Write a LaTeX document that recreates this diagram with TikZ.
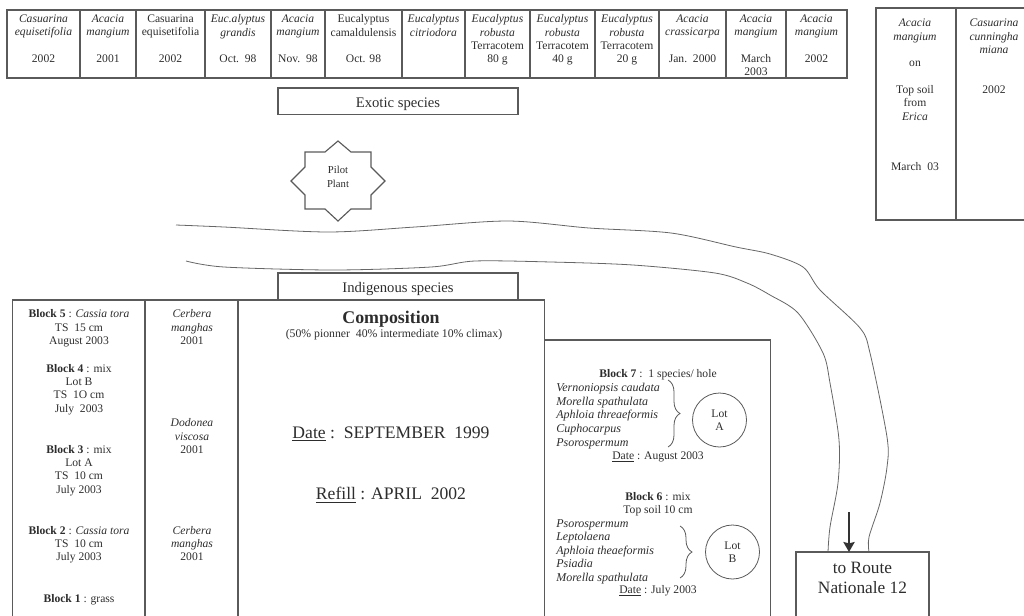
\documentclass[tikz,border=0pt]{standalone}
\usepackage{fontspec}
\setmainfont{Liberation Serif}
\usepackage{tikz}
\usetikzlibrary{arrows.meta,positioning,decorations.pathreplacing}
\definecolor{rule}{RGB}{90,90,90}
\definecolor{ink}{RGB}{45,45,45}
\tikzset{
  frame/.style={draw=rule,line width=0.85pt,outer sep=0pt,inner sep=0pt,minimum width=#1*0.75pt},
  cell/.style={frame=#1,minimum height=51pt},
  low/.style={frame=#1,minimum height=238.5pt},
  txt/.style={text=ink,align=center,inner sep=0pt,font=\fontsize{8.7}{10}\selectfont},
  big/.style={text=ink,align=center,inner sep=0pt,font=\fontsize{11}{13}\selectfont,text height=11.7pt,text depth=2pt},
  huge/.style={txt,font=\fontsize{13.2}{15}\selectfont},
  lst/.style={txt,align=left,anchor=north west,font=\fontsize{9}{10.2}\selectfont\itshape},
  river/.style={draw=black!60,line width=0.6pt},
  brc/.style={draw=black!65,line width=0.6pt,decorate,decoration={brace,amplitude=9pt}},
  lot/.style={circle,draw=black!65,line width=0.6pt,minimum size=40.5pt,inner sep=0pt,txt},
  arr/.style={-{Stealth[length=7.5pt,width=8.5pt,inset=1pt]},line width=1pt,draw=black!80}
}
\begin{document}
\begin{tikzpicture}[x=0.75pt,y=-0.75pt]
\useasboundingbox (0,0) rectangle (1024,615);
% top row
\node[cell=73,anchor=north west] (c1) at (7,10) {};
\node[cell=56,right=0pt of c1] (c2) {};
\node[cell=69,right=0pt of c2] (c3) {};
\node[cell=66,right=0pt of c3] (c4) {};
\node[cell=54,right=0pt of c4] (c5) {};
\node[cell=77,right=0pt of c5] (c6) {};
\node[cell=63,right=0pt of c6] (c7) {};
\node[cell=65,right=0pt of c7] (c8) {};
\node[cell=65,right=0pt of c8] (c9) {};
\node[cell=64,right=0pt of c9] (c10) {};
\node[cell=67,right=0pt of c10] (c11) {};
\node[cell=60,right=0pt of c11] (c12) {};
\node[cell=61,right=0pt of c12] (c13) {};
\node[txt,anchor=north] (t1) at (c1.north) [yshift=-3.5pt] {\textit{Casuarina}\\\textit{equisetifolia}\\[10pt]2002};
\node[txt,anchor=north] (t2) at (c2.north) [yshift=-3.5pt] {\textit{Acacia}\\\textit{mangium}\\[10pt]2001};
\node[txt,anchor=north] (t3) at (c3.north) [yshift=-3.5pt] {Casuarina\\equisetifolia\\[10pt]2002};
\node[txt,anchor=north] (t4) at (c4.north) [yshift=-3.5pt] {\textit{Euc.alyptus}\\\textit{grandis}\\[10pt]Oct.~~98};
\node[txt,anchor=north] (t5) at (c5.north) [yshift=-3.5pt] {\textit{Acacia}\\\textit{mangium}\\[10pt]Nov.~~98};
\node[txt,anchor=north] (t6) at (c6.north) [yshift=-3.5pt] {Eucalyptus\\camaldulensis\\[10pt]Oct. 98};
\node[txt,anchor=north] (t7) at (c7.north) [yshift=-3.5pt] {\textit{Eucalyptus}\\\textit{citriodora}};
\node[txt,anchor=north] (t8) at (c8.north) [yshift=-3.5pt] {\textit{Eucalyptus}\\\textit{robusta}\\Terracotem\\80 g};
\node[txt,anchor=north] (t9) at (c9.north) [yshift=-3.5pt] {\textit{Eucalyptus}\\\textit{robusta}\\Terracotem\\40 g};
\node[txt,anchor=north] (t10) at (c10.north) [yshift=-3.5pt] {\textit{Eucalyptus}\\\textit{robusta}\\Terracotem\\20 g};
\node[txt,anchor=north] (t11) at (c11.north) [yshift=-3.5pt] {\textit{Acacia}\\\textit{crassicarpa}\\[10pt]Jan.~~2000};
\node[txt,anchor=north] (t12) at (c12.north) [yshift=-3.5pt] {\textit{Acacia}\\\textit{mangium}\\[10pt]March\\2003};
\node[txt,anchor=north] (t13) at (c13.north) [yshift=-3.5pt] {\textit{Acacia}\\\textit{mangium}\\[10pt]2002};
\node[frame=240,minimum height=20pt,anchor=north west,big] (exotic) at (278,88) {Exotic species};
% right table
\node[frame=80,minimum height=159pt,anchor=north west] (r1) at (876,8) {};
\node[frame=74,minimum height=159pt,right=0pt of r1] (r2) {};
\node[txt,anchor=north] (tr1) at (915,19) {\textit{Acacia}\\\textit{mangium}\\[10pt]on\\[10pt]Top soil\\from\\\textit{Erica}\\[28pt]March~~03};
\node[txt,anchor=north] (tr2) at (994,19) {\textit{Casuarina}\\\textit{cunningha}\\\textit{miana}\\[20pt]2002};
% pilot plant
\draw[draw=rule,line width=0.85pt] (305,152) -- (325,152) -- (338,141) -- (351,152) -- (371,152) -- (371,167) -- (385,181) -- (371,195) -- (371,209) -- (351,209) -- (338,221) -- (325,209) -- (305,209) -- (305,195) -- (291,181) -- (305,167) -- cycle;
\node[txt,font=\fontsize{8}{10}\selectfont] (pilot) at (338,177) {Pilot\\Plant};
% road
\draw[river] plot[smooth,tension=0.5] coordinates {(176,225) (224,227) (328,232) (415,227) (508,221) (589,228) (671,233) (736,247) (770,254) (803,267) (820,290) (860,328) (870,353) (887,437) (887,467) (880,503) (869,537) (869,552)};
\draw[river] plot[smooth,tension=0.5] coordinates {(186,261) (224,267) (333,270) (431,267) (475,261) (551,262) (633,265) (715,273) (747,283) (770,295) (798,313) (823,353) (830,383) (839,440) (838,483) (830,527) (828,552)};
\node[frame=240,minimum height=20.25pt,anchor=north west,big] (indig) at (278,273) {Indigenous species};
% lower blocks
\node[low=132.5,anchor=north west] (b1) at (12.5,300) {};
\node[low=93,right=0pt of b1] (b2) {};
\node[low=306.5,right=0pt of b2] (comp) {};
\node[frame=226,minimum height=208.5pt,anchor=north west] (b7) at (544.5,340) {};
\node[txt,anchor=north] (tb5) at (79,309.5) {\textbf{Block 5} : \textit{Cassia tora}\\TS~~15 cm\\August 2003};
\node[txt,anchor=north] (tb4) at (79,364) {\textbf{Block 4} : mix\\Lot B\\TS~~1O cm\\July~~2003};
\node[txt,anchor=north] (tb3) at (79,445) {\textbf{Block 3} : mix\\Lot A\\TS~~10 cm\\July 2003};
\node[txt,anchor=north] (tb2) at (79,526) {\textbf{Block 2} : \textit{Cassia tora}\\TS~~10 cm\\July 2003};
\node[txt,anchor=north] (tb1) at (79,594) {\textbf{Block 1} : grass};
\node[txt,anchor=north] (ts1) at (192,309.5) {\textit{Cerbera}\\\textit{manghas}\\2001};
\node[txt,anchor=north] (ts2) at (192,418.5) {\textit{Dodonea}\\\textit{viscosa}\\2001};
\node[txt,anchor=north] (ts3) at (192,526) {\textit{Cerbera}\\\textit{manghas}\\2001};
\node[huge,font=\fontsize{13.4}{15}\selectfont\bfseries] (ctitle) at (391,319) {Composition};
\node[txt,font=\fontsize{8.8}{10}\selectfont] (csub) at (394,335) {(50\% pionner~~40\% intermediate 10\% climax)};
\node[huge] (cdate) at (391,434) {\underline{Date} :~~SEPTEMBER~~1999};
\node[huge] (crefill) at (391,495) {\underline{Refill} : APRIL~~2002};
% block 7
\node[txt] (b7h) at (658,375) {\textbf{Block 7} :~~1 species/ hole};
\node[lst] (b7l) at (556,383) {Vernoniopsis caudata\\Morella spathulata\\Aphloia threaeformis\\Cuphocarpus\\Psorospermum};
\node[txt] (b7d) at (658,457) {\underline{Date} : August 2003};
\node[lot] (lota) at (719.5,420) {Lot\\A};
\draw[brc] (668,380) -- (668,447);
% block 6
\node[txt,anchor=north] (b6h) at (658,492) {\textbf{Block 6} : mix\\Top soil 10 cm};
\node[lst] (b6l) at (556,519) {Psorospermum\\Leptolaena\\Aphloia theaeformis\\Psiadia\\Morella spathulata};
\node[txt] (b6d) at (658,591) {\underline{Date} : July 2003};
\node[lot] (lotb) at (732.5,552) {Lot\\B};
\draw[brc] (680,526) -- (680,578);
% route
\node[frame=133,minimum height=49.5pt,anchor=north west] (route) at (796,552) {};
\node[txt,font=\fontsize{13}{15}\selectfont] (routetxt) at (862.5,578) {to Route\\Nationale 12};
\coordinate (arrtop) at (849,512);
\draw[arr] (arrtop) -- (arrtop |- route.north);
\end{tikzpicture}
\end{document}
